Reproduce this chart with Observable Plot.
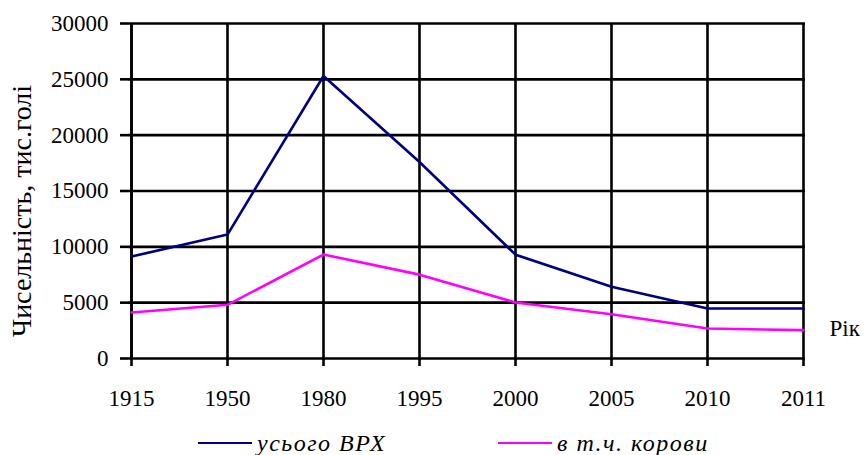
<!DOCTYPE html>
<html>
<head>
<meta charset="utf-8">
<script src="https://cdn.jsdelivr.net/npm/d3@7"></script>
<script src="https://cdn.jsdelivr.net/npm/@observablehq/plot@0.6"></script>
<style>
  html, body { margin: 0; padding: 0; background: #fff; }
  #chart { width: 866px; height: 455px; position: relative; overflow: hidden; }
  .legend { position: relative; height: 35px; font-family: 'Liberation Serif', 'Times New Roman', 'DejaVu Serif', serif; font-style: italic; font-size: 24px; letter-spacing: 1.5px; color: #000; }
  .item { position: absolute; top: 11px; display: flex; align-items: center; height: 24px; }
  .sw { display: inline-block; width: 54px; height: 0; border-top: 2.6px solid; margin-right: 5px; }
</style>
</head>
<body>
<div id="chart"></div>
<script>
const years = ["1915", "1950", "1980", "1995", "2000", "2005", "2010", "2011"];
const totalCattle = [9130, 11100, 25300, 17600, 9300, 6430, 4480, 4480];
const cows = [4120, 4810, 9310, 7510, 5020, 3970, 2680, 2540];
const seriesNames = ["усього ВРХ", "в т.ч. корови"];
const seriesColors = ["#000080", "#ff00ff"];
const yTicks = [0, 5000, 10000, 15000, 20000, 25000, 30000];
const yLabel = "Чисельність, тис.голі";
const xLabel = "Рік";

const rows = [];
years.forEach((y, i) => {
  rows.push({year: y, value: totalCattle[i], series: seriesNames[0]});
  rows.push({year: y, value: cows[i], series: seriesNames[1]});
});

const fontFamily = "'Liberation Serif', 'Times New Roman', 'DejaVu Serif', serif";

const plot = Plot.plot({
  width: 866,
  height: 420,
  marginLeft: 128,
  marginRight: 61,
  marginTop: 23,
  marginBottom: 62,
  style: {fontFamily, fontSize: "23px", color: "#000", background: "#fff", overflow: "visible"},
  x: {type: "point", domain: years, padding: 0},
  y: {domain: [0, 30000]},
  color: {domain: seriesNames, range: seriesColors},
  marks: [
    Plot.gridY(yTicks, {stroke: "#000", strokeOpacity: 1, strokeWidth: 2.6}),
    Plot.gridX(years, {stroke: "#000", strokeOpacity: 1, strokeWidth: 2.6}),
    Plot.axisY(yTicks, {tickSize: 8, tickPadding: 12, strokeWidth: 2.6, label: null, tickFormat: d => String(d), fontSize: 23, fontFamily}),
    Plot.axisX(years, {tickSize: 8, tickPadding: 23, strokeWidth: 2.6, label: null, fontSize: 23, fontFamily}),
    Plot.ruleX([0], {x: () => years[0], stroke: "#000", strokeWidth: 2.6}),
    Plot.line(rows, {x: "year", y: "value", z: "series", stroke: "series", strokeWidth: 2.6}),
    Plot.text([yLabel], {frameAnchor: "left", rotate: -90, dx: -106, dy: 20, fontSize: 28, fontFamily, text: d => d, lineAnchor: "middle", textAnchor: "middle"}),
    Plot.text([xLabel], {frameAnchor: "right", dx: 24, dy: 138, fontSize: 23, fontFamily, text: d => d, textAnchor: "start", lineAnchor: "middle"})
  ]
});

const chart = document.getElementById("chart");
chart.appendChild(plot);

const legend = document.createElement("div");
legend.className = "legend";
const lefts = [198, 498];
seriesNames.forEach((name, i) => {
  const item = document.createElement("div");
  item.className = "item";
  item.style.left = lefts[i] + "px";
  const sw = document.createElement("span");
  sw.className = "sw";
  sw.style.borderColor = seriesColors[i];
  const t = document.createElement("span");
  t.textContent = name;
  item.appendChild(sw);
  item.appendChild(t);
  legend.appendChild(item);
});
chart.appendChild(legend);
</script>
</body>
</html>
